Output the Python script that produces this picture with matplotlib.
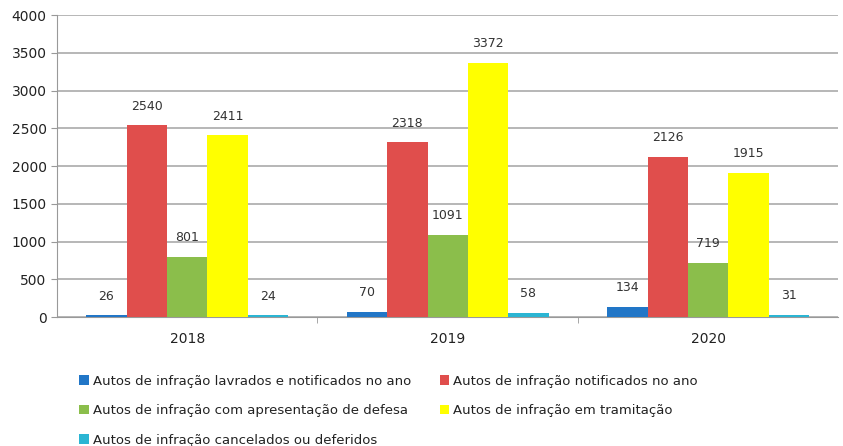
import numpy as np
from matplotlib import pyplot as plt

# Data.
years = ["2018", "2019", "2020"]
series_names = [
	"Autos de infração lavrados e notificados no ano",
	"Autos de infração notificados no ano",
	"Autos de infração com apresentação de defesa",
	"Autos de infração em tramitação",
	"Autos de infração cancelados ou deferidos",
]
lavrados = [26, 70, 134]
notificados = [2540, 2318, 2126]
defesa = [801, 1091, 719]
tramitacao = [2411, 3372, 1915]
cancelados = [24, 58, 31]

colors = ["#2176C7", "#E04E4C", "#8BBE4B", "#FFFF00", "#2BB5D3"]

plt.rcParams['font.family'] = ['DejaVu Sans']

fig = plt.figure(figsize=(8.43, 4.46), dpi=100)
ax = fig.add_axes([0.0676, 0.289, 0.927, 0.677])

all_series = [lavrados, notificados, defesa, tramitacao, cancelados]
x = np.arange(len(years))
w = 0.155
bars = []
for i, vals in enumerate(all_series):
	pos = x + (i - 2) * w
	b = ax.bar(pos, vals, w, color=colors[i], label=series_names[i], zorder=3)
	bars.append(b)
	for p, v in zip(pos, vals):
		ax.annotate(str(v), (p, v), xytext=(0, 9), textcoords="offset points",
			ha="center", va="bottom", fontsize=9, color="#333333")

ax.set_xlim(-0.5, 2.5)
ax.set_ylim(0, 4000)
ax.set_yticks(np.arange(0, 4001, 500))
ax.set_xticks(x)
ax.set_xticklabels(years, fontsize=10)
ax.tick_params(axis="y", labelsize=10, length=4, color="#999999", labelcolor="#222222")
ax.tick_params(axis="x", length=0, pad=11, labelcolor="#222222")
# separators between categories
ax.set_xticks([0.5, 1.5], minor=True)
ax.tick_params(axis="x", which="minor", length=4, color="#999999")
ax.grid(axis="y", color="#aaaaaa", linewidth=1.2, zorder=0)
for s in ["top", "right"]:
	ax.spines[s].set_visible(False)
ax.spines["left"].set_color("#999999")
ax.spines["bottom"].set_color("#999999")

order = [0, 2, 4, 1, 3]
fig.legend([bars[i] for i in order], [series_names[i] for i in order],
	ncol=2, loc="upper left", bbox_to_anchor=(0.088, 0.172), frameon=False,
	fontsize=9.5, handlelength=0.7, handleheight=0.7, handletextpad=0.3,
	columnspacing=2.2, labelspacing=1.25, borderaxespad=0, labelcolor="#222222")

fig.savefig("out.png", dpi=100)
